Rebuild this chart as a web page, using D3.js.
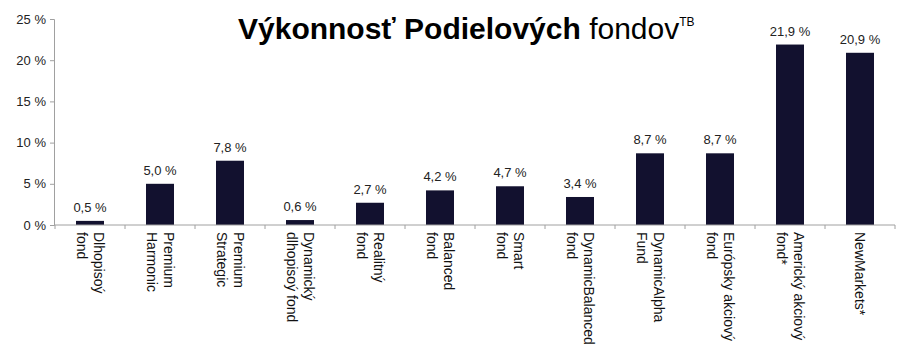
<!DOCTYPE html>
<html>
<head>
<meta charset="utf-8">
<script src="https://cdn.jsdelivr.net/npm/d3@7"></script>
<style>
  body { margin: 0; background: #fff; }
  text { font-family: "Liberation Sans", Arial, sans-serif; }
</style>
</head>
<body>
<div id="chart"></div>
<script>
// Data
const categories = [
  ["Dlhopisoý", "fond"],
  ["Premium", "Harmonic"],
  ["Premium", "Strategic"],
  ["Dynamický", "dlhopisoý fond"],
  ["Realitný", "fond"],
  ["Balanced", "fond"],
  ["Smart", "fond"],
  ["DynamicBalanced", "fond"],
  ["DynamicAlpha", "Fund"],
  ["Európsky akciový", "fond"],
  ["Americký akciový", "fond*"],
  ["NewMarkets*"]
]
const values = [0.5, 5.0, 7.8, 0.6, 2.7, 4.2, 4.7, 3.4, 8.7, 8.7, 21.9, 20.9]
const yTicks = [0, 5, 10, 15, 20, 25]

function draw() {
  const dimensions = {
    width: 905,
    height: 352,
    left: 55,
    right: 895,
    top: 19,
    bottom: 225
  }

  const svg = d3.select('#chart')
    .append('svg')
    .attr('width', dimensions.width)
    .attr('height', dimensions.height)

  const fmt = v => v.toFixed(1).replace('.', ',') + ' %'

  // Scales
  const xScale = d3.scaleBand()
    .domain(d3.range(categories.length))
    .range([dimensions.left, dimensions.right])
    .paddingInner(0.6)
    .paddingOuter(0.3)

  const yScale = d3.scaleLinear()
    .domain([0, 25])
    .range([dimensions.bottom, dimensions.top])

  // Bars
  svg.append('g')
    .selectAll('rect')
    .data(values)
    .join('rect')
    .attr('x', (d, i) => xScale(i))
    .attr('y', d => yScale(d))
    .attr('width', xScale.bandwidth())
    .attr('height', d => yScale(0) - yScale(d))
    .attr('fill', '#12112f')

  // Value labels
  svg.append('g')
    .selectAll('text')
    .data(values)
    .join('text')
    .attr('x', (d, i) => xScale(i) + xScale.bandwidth() / 2)
    .attr('y', d => yScale(d) - 9)
    .attr('text-anchor', 'middle')
    .attr('font-size', 13)
    .attr('fill', '#222')
    .text(fmt)

  // Y axis
  const yAxis = d3.axisLeft(yScale)
    .tickValues(yTicks)
    .tickSize(4)
    .tickPadding(4)
    .tickFormat(d => d + ' %')

  const yAxisGroup = svg.append('g')
    .attr('transform', `translate(${dimensions.left - 1},0)`)
    .call(yAxis)
  yAxisGroup.selectAll('text')
    .attr('font-size', 13)
    .attr('fill', '#222')
    .style('font-family', '"Liberation Sans", Arial, sans-serif')

  // X axis (category boundaries as ticks)
  const step = xScale.step()
  const boundaries = d3.range(categories.length + 1)
  const xAxisGroup = svg.append('g')
  xAxisGroup.append('line')
    .attr('x1', dimensions.left - 1)
    .attr('x2', dimensions.right)
    .attr('y1', yScale(0))
    .attr('y2', yScale(0))
  xAxisGroup.selectAll('.tick')
    .data(boundaries)
    .join('line')
    .attr('class', 'tick')
    .attr('x1', i => dimensions.left + i * step)
    .attr('x2', i => dimensions.left + i * step)
    .attr('y1', yScale(0))
    .attr('y2', yScale(0) + 4)
  xAxisGroup.selectAll('line').attr('stroke', '#a0a0a0')
  yAxisGroup.selectAll('path, line').attr('stroke', '#a0a0a0')

  // Category labels, rotated
  const lineHeight = 17
  const labels = svg.append('g')
    .selectAll('g')
    .data(categories)
    .join('g')
    .attr('transform', (d, i) =>
      `translate(${xScale(i) + xScale.bandwidth() / 2},${yScale(0) + 7}) rotate(90)`)

  labels.selectAll('text')
    .data(d => d.map((t, j) => ({ t, off: (j - (d.length - 1) / 2) * lineHeight })))
    .join('text')
    .attr('x', 0)
    .attr('y', d => d.off)
    .attr('dy', '0.35em')
    .attr('font-size', 14)
    .attr('fill', '#111')
    .text(d => d.t)

  // Title
  const title = svg.append('text')
    .attr('x', 238)
    .attr('y', 39)
    .attr('font-size', 30)
    .attr('fill', '#000')
  title.append('tspan')
    .attr('font-weight', 'bold')
    .text('Výkonnosť Podielových ')
  title.append('tspan')
    .text('fondov')
  title.append('tspan')
    .attr('font-size', 12)
    .attr('dy', -13)
    .text('TB')
}

draw()
</script>
</body>
</html>
